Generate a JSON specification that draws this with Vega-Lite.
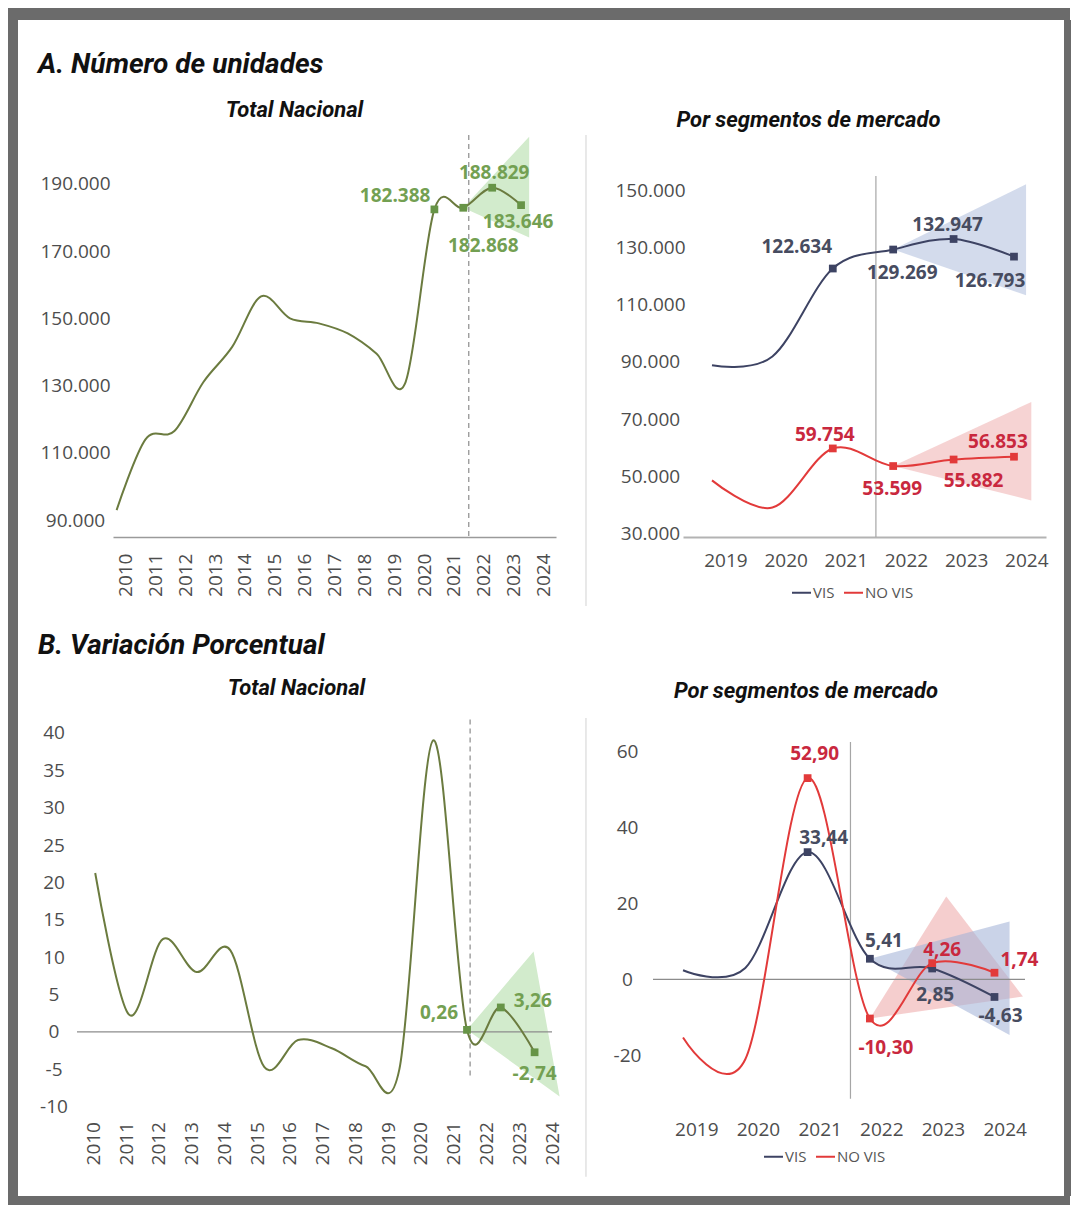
{
  "$schema": "https://vega.github.io/schema/vega-lite/v6.json",
  "background": "white",
  "padding": {"left": 8, "top": 8, "right": 1, "bottom": 0},
  "config": {
    "view": {"stroke": null},
    "locale": {"number": {"decimal": ",", "thousands": ".", "grouping": [3], "currency": ["$", ""], "minus": "-"}},
    "axis": {"labelFont": "Open Sans", "labelFontSize": 19, "labelColor": "#4d4d4d", "grid": false, "ticks": false, "tickSize": 0, "domain": false, "labelFlush": false, "labelOverlap": false, "labelBound": false},
    "title": {"font": "Roboto", "fontWeight": "bold", "fontStyle": "italic", "color": "#111111"},
    "text": {"font": "Open Sans", "fontWeight": "bold", "fontSize": 19},
    "concat": {"spacing": 0}
  },
  "spacing": 0,
  "resolve": {"scale": {"color": "independent"}, "legend": {"color": "independent"}},
  "vconcat": [
    {"width": 1062, "height": 12, "data": {"values": []}, "mark": "point", "view": {"fill": "#6b6b6b", "stroke": null}},
    {
      "spacing": 0,
      "resolve": {"scale": {"color": "independent"}, "legend": {"color": "independent"}},
      "hconcat": [
        {"width": 10, "height": 1176, "data": {"values": []}, "mark": "point", "view": {"fill": "#6b6b6b", "stroke": null}},
        {"width": 20, "height": 10, "data": {"values": []}, "mark": "point"},
        {
          "spacing": 0,
          "resolve": {"scale": {"color": "independent"}, "legend": {"color": "independent"}},
          "vconcat": [
            {"width": 10, "height": 31, "data": {"values": []}, "mark": "point"},
            {
              "title": {"text": "A. Número de unidades", "anchor": "start", "fontSize": 28, "offset": 20, "frame": "bounds"},
              "spacing": 0,
              "resolve": {"scale": {"color": "independent"}, "legend": {"color": "independent"}},
              "hconcat": [
                {"width": 1, "height": 10, "data": {"values": []}, "mark": "point"},
                {
                  "spacing": 27,
                  "resolve": {"scale": {"color": "independent"}, "legend": {"color": "independent"}},
                  "hconcat": [
                {
                  "width": 443, "height": 402,
                  "title": {"text": "Total Nacional", "fontSize": 22, "anchor": "middle", "dx": -40, "offset": 12},
                  "resolve": {"scale": {"x": "independent", "y": "independent"}},
                  "data": {"values": [
                    {"year": 2009, "value": 93000}, {"year": 2010, "value": 114000}, {"year": 2011, "value": 116500},
                    {"year": 2012, "value": 131000}, {"year": 2013, "value": 141500}, {"year": 2014, "value": 156500},
                    {"year": 2015, "value": 150000}, {"year": 2016, "value": 148500}, {"year": 2017, "value": 145500},
                    {"year": 2018, "value": 139500}, {"year": 2019, "value": 131000}, {"year": 2020, "value": 182388},
                    {"year": 2021, "value": 182868}, {"year": 2022, "value": 188829}, {"year": 2023, "value": 183646}
                  ]},
                  "layer": [
                    {"data": {"values": [{"year": 2021, "value": 182868, "value2": 182868}, {"year": 2023.28, "value": 174000, "value2": 204000}]},
                     "mark": {"type": "area", "color": "#d2ebcc"},
                     "encoding": {
                       "x": {"field": "year", "type": "quantitative", "scale": {"domain": [2008.875, 2024.209], "nice": false, "zero": false}, "axis": null, "title": null},
                       "y": {"field": "value", "type": "quantitative", "scale": {"domain": [85000, 204500], "nice": false, "zero": false}, "axis": null, "title": null},
                       "y2": {"field": "value2"}
                     }},
                    {"data": {"values": [{}]},
                     "mark": {"type": "rule", "color": "#8c8c8c", "strokeDash": [5, 4], "strokeWidth": 1.2},
                     "encoding": {
                       "x": {"datum": 2021.5, "type": "quantitative", "scale": {"domain": [2009.578, 2024.423], "nice": false, "zero": false}, "title": null,
                             "axis": {"values": [2010, 2011, 2012, 2013, 2014, 2015, 2016, 2017, 2018, 2019, 2020, 2021, 2022, 2023, 2024], "format": "d", "labelAngle": -90, "labelPadding": 16, "domain": true, "domainColor": "#9a9a9a", "domainWidth": 1.5}},
                       "y": {"datum": 204500, "type": "quantitative", "scale": {"domain": [85000, 204500], "nice": false, "zero": false}, "title": null,
                             "axis": {"values": [90000, 110000, 130000, 150000, 170000, 190000], "format": ",.0f", "labelAlign": "center", "labelPadding": 38}},
                       "y2": {"datum": 85000}
                     }},
                    {"data": {"values": [{}]},
                     "mark": {"type": "rule", "color": "#dadada", "strokeWidth": 1.2},
                     "encoding": {
                       "x": {"datum": 2025.247, "type": "quantitative", "scale": {"domain": [2008.875, 2024.209], "nice": false, "zero": false}, "axis": null, "title": null},
                       "y": {"datum": 204500, "type": "quantitative", "scale": {"domain": [85000, 204500], "nice": false, "zero": false}, "axis": null, "title": null},
                       "y2": {"datum": 64500}
                     }},
                    {"mark": {"type": "line", "interpolate": "cardinal", "tension": 0, "color": "#6b7b3f", "strokeWidth": 2},
                     "encoding": {
                       "x": {"field": "year", "type": "quantitative", "scale": {"domain": [2008.875, 2024.209], "nice": false, "zero": false}, "axis": null, "title": null},
                       "y": {"field": "value", "type": "quantitative", "scale": {"domain": [85000, 204500], "nice": false, "zero": false}, "axis": null, "title": null}
                     }},
                    {"transform": [{"filter": "datum.year >= 2020"}],
                     "mark": {"type": "point", "shape": "square", "filled": true, "size": 60, "color": "#679447", "opacity": 1},
                     "encoding": {
                       "x": {"field": "year", "type": "quantitative", "scale": {"domain": [2008.875, 2024.209], "nice": false, "zero": false}, "axis": null, "title": null},
                       "y": {"field": "value", "type": "quantitative", "scale": {"domain": [85000, 204500], "nice": false, "zero": false}, "axis": null, "title": null}
                     }},
                    {"transform": [{"filter": "datum.year == 2020"}],
                     "mark": {"type": "text", "color": "#73a052", "align": "right", "dx": -4, "dy": -13},
                     "encoding": {
                       "x": {"field": "year", "type": "quantitative", "scale": {"domain": [2008.875, 2024.209], "nice": false, "zero": false}, "axis": null, "title": null},
                       "y": {"field": "value", "type": "quantitative", "scale": {"domain": [85000, 204500], "nice": false, "zero": false}, "axis": null, "title": null},
                       "text": {"field": "value", "format": ",.0f"}
                     }},
                    {"transform": [{"filter": "datum.year == 2021"}],
                     "mark": {"type": "text", "color": "#73a052", "dx": 20, "dy": 38},
                     "encoding": {
                       "x": {"field": "year", "type": "quantitative", "scale": {"domain": [2008.875, 2024.209], "nice": false, "zero": false}, "axis": null, "title": null},
                       "y": {"field": "value", "type": "quantitative", "scale": {"domain": [85000, 204500], "nice": false, "zero": false}, "axis": null, "title": null},
                       "text": {"field": "value", "format": ",.0f"}
                     }},
                    {"transform": [{"filter": "datum.year == 2022"}],
                     "mark": {"type": "text", "color": "#73a052", "dx": 2, "dy": -15},
                     "encoding": {
                       "x": {"field": "year", "type": "quantitative", "scale": {"domain": [2008.875, 2024.209], "nice": false, "zero": false}, "axis": null, "title": null},
                       "y": {"field": "value", "type": "quantitative", "scale": {"domain": [85000, 204500], "nice": false, "zero": false}, "axis": null, "title": null},
                       "text": {"field": "value", "format": ",.0f"}
                     }},
                    {"transform": [{"filter": "datum.year == 2023"}],
                     "mark": {"type": "text", "color": "#73a052", "dx": -3, "dy": 17},
                     "encoding": {
                       "x": {"field": "year", "type": "quantitative", "scale": {"domain": [2008.875, 2024.209], "nice": false, "zero": false}, "axis": null, "title": null},
                       "y": {"field": "value", "type": "quantitative", "scale": {"domain": [85000, 204500], "nice": false, "zero": false}, "axis": null, "title": null},
                       "text": {"field": "value", "format": ",.0f"}
                     }}
                  ]
                },
                {
                  "width": 363, "height": 402,
                  "title": {"text": "Por segmentos de mercado", "fontSize": 22, "anchor": "middle", "dx": -56, "offset": 3},
                  "resolve": {"scale": {"x": "independent", "y": "independent"}},
                  "data": {"values": [
                    {"seg": "VIS", "year": 2019, "value": 88800}, {"seg": "VIS", "year": 2020, "value": 91900},
                    {"seg": "VIS", "year": 2021, "value": 122634}, {"seg": "VIS", "year": 2022, "value": 129269},
                    {"seg": "VIS", "year": 2023, "value": 132947}, {"seg": "VIS", "year": 2024, "value": 126793},
                    {"seg": "NO VIS", "year": 2019, "value": 48600}, {"seg": "NO VIS", "year": 2020, "value": 39100},
                    {"seg": "NO VIS", "year": 2021, "value": 59754}, {"seg": "NO VIS", "year": 2022, "value": 53599},
                    {"seg": "NO VIS", "year": 2023, "value": 55882}, {"seg": "NO VIS", "year": 2024, "value": 56853}
                  ]},
                  "layer": [
                    {"data": {"values": [
                       {"seg": "NO VIS", "year": 2022, "value": 53599, "value2": 53599},
                       {"seg": "NO VIS", "year": 2024.287, "value": 41600, "value2": 76000},
                       {"seg": "VIS", "year": 2022, "value": 129269, "value2": 129269},
                       {"seg": "VIS", "year": 2024.2, "value": 113300, "value2": 152100}
                     ]},
                     "mark": {"type": "area"},
                     "encoding": {
                       "x": {"field": "year", "type": "quantitative", "scale": {"domain": [2018.52, 2024.53], "nice": false, "zero": false}, "axis": null, "title": null},
                       "y": {"field": "value", "type": "quantitative", "scale": {"domain": [28800, 169300], "nice": false, "zero": false}, "axis": null, "title": null},
                       "y2": {"field": "value2"},
                       "detail": {"field": "seg"},
                       "color": {"condition": {"test": "datum.seg === 'VIS'", "value": "#b3c1de"}, "value": "#f0b3b3"},
                       "opacity": {"value": 0.58}
                     }},
                    {"data": {"values": [{}]},
                     "mark": {"type": "rule", "color": "#a6a6a6", "strokeWidth": 1.2},
                     "encoding": {
                       "x": {"datum": 2021.5, "type": "quantitative", "scale": {"domain": [2018.294, 2024.327], "nice": false, "zero": false}, "title": null,
                             "axis": {"values": [2019, 2020, 2021, 2022, 2023, 2024], "format": "d", "labelAngle": 0, "labelPadding": 14, "domain": true, "domainColor": "#b3b3b3", "domainWidth": 2}},
                       "y": {"datum": 155000, "type": "quantitative", "scale": {"domain": [28800, 169300], "nice": false, "zero": false}, "title": null,
                             "axis": {"values": [30000, 50000, 70000, 90000, 110000, 130000, 150000], "format": ",.0f", "labelAlign": "center", "labelPadding": 33}},
                       "y2": {"datum": 28800}
                     }},
                    {"mark": {"type": "line", "interpolate": "cardinal", "tension": 0, "strokeWidth": 2},
                     "encoding": {
                       "x": {"field": "year", "type": "quantitative", "scale": {"domain": [2018.52, 2024.53], "nice": false, "zero": false}, "axis": null, "title": null},
                       "y": {"field": "value", "type": "quantitative", "scale": {"domain": [28800, 169300], "nice": false, "zero": false}, "axis": null, "title": null},
                       "color": {"field": "seg", "type": "nominal", "scale": {"domain": ["VIS", "NO VIS"], "range": ["#3d4363", "#e23a3a"]},
                         "legend": {"orient": "none", "legendX": 108, "legendY": 447, "direction": "horizontal", "title": null, "symbolType": "stroke", "symbolSize": 361, "symbolStrokeWidth": 2, "labelFontSize": 15, "labelFont": "Open Sans", "labelColor": "#555555", "columnPadding": 5, "labelOffset": 1, "padding": 0}}
                     }},
                    {"transform": [{"filter": "datum.year >= 2021"}],
                     "mark": {"type": "point", "shape": "square", "filled": true, "size": 60, "opacity": 1},
                     "encoding": {
                       "x": {"field": "year", "type": "quantitative", "scale": {"domain": [2018.52, 2024.53], "nice": false, "zero": false}, "axis": null, "title": null},
                       "y": {"field": "value", "type": "quantitative", "scale": {"domain": [28800, 169300], "nice": false, "zero": false}, "axis": null, "title": null},
                       "color": {"condition": {"test": "datum.seg === 'VIS'", "value": "#3d4363"}, "value": "#e23a3a"}
                     }},
                    {"transform": [{"filter": "datum.seg === 'VIS' && datum.year == 2021"}],
                     "mark": {"type": "text", "color": "#474c60", "dx": -36, "dy": -22},
                     "encoding": {
                       "x": {"field": "year", "type": "quantitative", "scale": {"domain": [2018.52, 2024.53], "nice": false, "zero": false}, "axis": null, "title": null},
                       "y": {"field": "value", "type": "quantitative", "scale": {"domain": [28800, 169300], "nice": false, "zero": false}, "axis": null, "title": null},
                       "text": {"field": "value", "format": ",.0f"}
                     }},
                    {"transform": [{"filter": "datum.seg === 'VIS' && datum.year == 2022"}],
                     "mark": {"type": "text", "color": "#474c60", "dx": 9, "dy": 23},
                     "encoding": {
                       "x": {"field": "year", "type": "quantitative", "scale": {"domain": [2018.52, 2024.53], "nice": false, "zero": false}, "axis": null, "title": null},
                       "y": {"field": "value", "type": "quantitative", "scale": {"domain": [28800, 169300], "nice": false, "zero": false}, "axis": null, "title": null},
                       "text": {"field": "value", "format": ",.0f"}
                     }},
                    {"transform": [{"filter": "datum.seg === 'VIS' && datum.year == 2023"}],
                     "mark": {"type": "text", "color": "#474c60", "dx": -6, "dy": -14},
                     "encoding": {
                       "x": {"field": "year", "type": "quantitative", "scale": {"domain": [2018.52, 2024.53], "nice": false, "zero": false}, "axis": null, "title": null},
                       "y": {"field": "value", "type": "quantitative", "scale": {"domain": [28800, 169300], "nice": false, "zero": false}, "axis": null, "title": null},
                       "text": {"field": "value", "format": ",.0f"}
                     }},
                    {"transform": [{"filter": "datum.seg === 'VIS' && datum.year == 2024"}],
                     "mark": {"type": "text", "color": "#474c60", "dx": -24, "dy": 24},
                     "encoding": {
                       "x": {"field": "year", "type": "quantitative", "scale": {"domain": [2018.52, 2024.53], "nice": false, "zero": false}, "axis": null, "title": null},
                       "y": {"field": "value", "type": "quantitative", "scale": {"domain": [28800, 169300], "nice": false, "zero": false}, "axis": null, "title": null},
                       "text": {"field": "value", "format": ",.0f"}
                     }},
                    {"transform": [{"filter": "datum.seg === 'NO VIS' && datum.year == 2021"}],
                     "mark": {"type": "text", "color": "#c9283e", "dx": -8, "dy": -13},
                     "encoding": {
                       "x": {"field": "year", "type": "quantitative", "scale": {"domain": [2018.52, 2024.53], "nice": false, "zero": false}, "axis": null, "title": null},
                       "y": {"field": "value", "type": "quantitative", "scale": {"domain": [28800, 169300], "nice": false, "zero": false}, "axis": null, "title": null},
                       "text": {"field": "value", "format": ",.0f"}
                     }},
                    {"transform": [{"filter": "datum.seg === 'NO VIS' && datum.year == 2022"}],
                     "mark": {"type": "text", "color": "#c9283e", "dx": -1, "dy": 23},
                     "encoding": {
                       "x": {"field": "year", "type": "quantitative", "scale": {"domain": [2018.52, 2024.53], "nice": false, "zero": false}, "axis": null, "title": null},
                       "y": {"field": "value", "type": "quantitative", "scale": {"domain": [28800, 169300], "nice": false, "zero": false}, "axis": null, "title": null},
                       "text": {"field": "value", "format": ",.0f"}
                     }},
                    {"transform": [{"filter": "datum.seg === 'NO VIS' && datum.year == 2023"}],
                     "mark": {"type": "text", "color": "#c9283e", "dx": 20, "dy": 21},
                     "encoding": {
                       "x": {"field": "year", "type": "quantitative", "scale": {"domain": [2018.52, 2024.53], "nice": false, "zero": false}, "axis": null, "title": null},
                       "y": {"field": "value", "type": "quantitative", "scale": {"domain": [28800, 169300], "nice": false, "zero": false}, "axis": null, "title": null},
                       "text": {"field": "value", "format": ",.0f"}
                     }},
                    {"transform": [{"filter": "datum.seg === 'NO VIS' && datum.year == 2024"}],
                     "mark": {"type": "text", "color": "#c9283e", "dx": -16, "dy": -15},
                     "encoding": {
                       "x": {"field": "year", "type": "quantitative", "scale": {"domain": [2018.52, 2024.53], "nice": false, "zero": false}, "axis": null, "title": null},
                       "y": {"field": "value", "type": "quantitative", "scale": {"domain": [28800, 169300], "nice": false, "zero": false}, "axis": null, "title": null},
                       "text": {"field": "value", "format": ",.0f"}
                     }}
                  ]
                }
                  ]
                }
              ]
            },
            {"width": 10, "height": 25, "data": {"values": []}, "mark": "point"},
            {
              "title": {"text": "B. Variación Porcentual", "anchor": "start", "fontSize": 28, "offset": 17, "frame": "bounds"},
              "spacing": 0,
              "resolve": {"scale": {"color": "independent"}, "legend": {"color": "independent"}},
              "hconcat": [
                {"width": 1, "height": 10, "data": {"values": []}, "mark": "point"},
                {
                  "spacing": 26,
                  "resolve": {"scale": {"color": "independent"}, "legend": {"color": "independent"}},
                  "hconcat": [
                {
                  "width": 475, "height": 396,
                  "title": {"text": "Total Nacional", "fontSize": 22, "anchor": "middle", "dx": -18, "offset": 17},
                  "resolve": {"scale": {"x": "independent", "y": "independent"}},
                  "data": {"values": [
                    {"year": 2010, "value": 21.25}, {"year": 2011, "value": 2.3}, {"year": 2012, "value": 12.4},
                    {"year": 2013, "value": 8.0}, {"year": 2014, "value": 10.9}, {"year": 2015, "value": -4.7},
                    {"year": 2016, "value": -1.1}, {"year": 2017, "value": -2.2}, {"year": 2018, "value": -4.6},
                    {"year": 2019, "value": -5.0}, {"year": 2020, "value": 39.0}, {"year": 2021, "value": 0.26},
                    {"year": 2022, "value": 3.26}, {"year": 2023, "value": -2.74}
                  ]},
                  "layer": [
                    {"data": {"values": [{"year": 2021, "value": 0.26, "value2": 0.26}, {"year": 2022.97, "value": -6.16, "value2": 10.75}, {"year": 2023.74, "value": -8.67, "value2": -8.67}]},
                     "mark": {"type": "area", "color": "#d2ebcc"},
                     "encoding": {
                       "x": {"field": "year", "type": "quantitative", "scale": {"domain": [2009.4615, 2023.515], "nice": false, "zero": false}, "axis": null, "title": null},
                       "y": {"field": "value", "type": "quantitative", "scale": {"domain": [-11, 42], "nice": false, "zero": false}, "axis": null, "title": null},
                       "y2": {"field": "value2"}
                     }},
                    {"data": {"values": [{}]},
                     "mark": {"type": "rule", "color": "#8c8c8c", "strokeWidth": 1.2},
                     "encoding": {
                       "x": {"datum": 2009.4615, "type": "quantitative", "scale": {"domain": [2009.4615, 2023.515], "nice": false, "zero": false}, "axis": null, "title": null},
                       "x2": {"datum": 2023.515},
                       "y": {"datum": 0, "type": "quantitative", "scale": {"domain": [-11, 42], "nice": false, "zero": false}, "title": null,
                             "axis": {"values": [-10, -5, 0, 5, 10, 15, 20, 25, 30, 35, 40], "format": "d", "labelAlign": "center", "labelPadding": 23.5}}
                     }},
                    {"data": {"values": [{}]},
                     "mark": {"type": "rule", "color": "#8c8c8c", "strokeDash": [5, 4], "strokeWidth": 1.2},
                     "encoding": {
                       "x": {"datum": 2021.5, "type": "quantitative", "scale": {"domain": [2009.5, 2024.0], "nice": false, "zero": false}, "title": null,
                             "axis": {"values": [2010, 2011, 2012, 2013, 2014, 2015, 2016, 2017, 2018, 2019, 2020, 2021, 2022, 2023, 2024], "format": "d", "labelAngle": -90, "labelPadding": 7.5}},
                       "y": {"datum": 41.8, "type": "quantitative", "scale": {"domain": [-11, 42], "nice": false, "zero": false}, "axis": null, "title": null},
                       "y2": {"datum": -6.2}
                     }},
                    {"data": {"values": [{}]},
                     "mark": {"type": "rule", "color": "#dadada", "strokeWidth": 1.2},
                     "encoding": {
                       "x": {"datum": 2024.52, "type": "quantitative", "scale": {"domain": [2009.4615, 2023.515], "nice": false, "zero": false}, "axis": null, "title": null},
                       "y": {"datum": 42, "type": "quantitative", "scale": {"domain": [-11, 42], "nice": false, "zero": false}, "axis": null, "title": null},
                       "y2": {"datum": -19.4}
                     }},
                    {"mark": {"type": "line", "interpolate": "cardinal", "tension": 0, "color": "#6b7b3f", "strokeWidth": 2},
                     "encoding": {
                       "x": {"field": "year", "type": "quantitative", "scale": {"domain": [2009.4615, 2023.515], "nice": false, "zero": false}, "axis": null, "title": null},
                       "y": {"field": "value", "type": "quantitative", "scale": {"domain": [-11, 42], "nice": false, "zero": false}, "axis": null, "title": null}
                     }},
                    {"transform": [{"filter": "datum.year >= 2021"}],
                     "mark": {"type": "point", "shape": "square", "filled": true, "size": 60, "color": "#679447", "opacity": 1},
                     "encoding": {
                       "x": {"field": "year", "type": "quantitative", "scale": {"domain": [2009.4615, 2023.515], "nice": false, "zero": false}, "axis": null, "title": null},
                       "y": {"field": "value", "type": "quantitative", "scale": {"domain": [-11, 42], "nice": false, "zero": false}, "axis": null, "title": null}
                     }},
                    {"transform": [{"filter": "datum.year == 2021"}],
                     "mark": {"type": "text", "color": "#73a052", "dx": -28, "dy": -17},
                     "encoding": {
                       "x": {"field": "year", "type": "quantitative", "scale": {"domain": [2009.4615, 2023.515], "nice": false, "zero": false}, "axis": null, "title": null},
                       "y": {"field": "value", "type": "quantitative", "scale": {"domain": [-11, 42], "nice": false, "zero": false}, "axis": null, "title": null},
                       "text": {"field": "value", "format": ".2f"}
                     }},
                    {"transform": [{"filter": "datum.year == 2022"}],
                     "mark": {"type": "text", "color": "#73a052", "dx": 32, "dy": -6},
                     "encoding": {
                       "x": {"field": "year", "type": "quantitative", "scale": {"domain": [2009.4615, 2023.515], "nice": false, "zero": false}, "axis": null, "title": null},
                       "y": {"field": "value", "type": "quantitative", "scale": {"domain": [-11, 42], "nice": false, "zero": false}, "axis": null, "title": null},
                       "text": {"field": "value", "format": ".2f"}
                     }},
                    {"transform": [{"filter": "datum.year == 2023"}],
                     "mark": {"type": "text", "color": "#73a052", "dx": 0, "dy": 22},
                     "encoding": {
                       "x": {"field": "year", "type": "quantitative", "scale": {"domain": [2009.4615, 2023.515], "nice": false, "zero": false}, "axis": null, "title": null},
                       "y": {"field": "value", "type": "quantitative", "scale": {"domain": [-11, 42], "nice": false, "zero": false}, "axis": null, "title": null},
                       "text": {"field": "value", "format": ".2f"}
                     }}
                  ]
                },
                {
                  "width": 372, "height": 396,
                  "title": {"text": "Por segmentos de mercado", "fontSize": 22, "anchor": "middle", "dx": -33, "offset": 15},
                  "resolve": {"scale": {"x": "independent", "y": "independent"}},
                  "data": {"values": [
                    {"seg": "VIS", "year": 2019, "value": 2.4}, {"seg": "VIS", "year": 2020, "value": 3.0},
                    {"seg": "VIS", "year": 2021, "value": 33.44}, {"seg": "VIS", "year": 2022, "value": 5.41},
                    {"seg": "VIS", "year": 2023, "value": 2.85}, {"seg": "VIS", "year": 2024, "value": -4.63},
                    {"seg": "NO VIS", "year": 2019, "value": -15.3}, {"seg": "NO VIS", "year": 2020, "value": -21.0},
                    {"seg": "NO VIS", "year": 2021, "value": 52.9}, {"seg": "NO VIS", "year": 2022, "value": -10.3},
                    {"seg": "NO VIS", "year": 2023, "value": 4.26}, {"seg": "NO VIS", "year": 2024, "value": 1.74}
                  ]},
                  "layer": [
                    {"data": {"values": [
                       {"seg": "NO VIS", "year": 2022, "value": -10.3, "value2": -10.3},
                       {"seg": "NO VIS", "year": 2023.226, "value": -7.41, "value2": 21.8},
                       {"seg": "NO VIS", "year": 2024.457, "value": -4.5, "value2": -4.5},
                       {"seg": "VIS", "year": 2022, "value": 5.41, "value2": 5.41},
                       {"seg": "VIS", "year": 2024.242, "value": -14.6, "value2": 15.2}
                     ]},
                     "mark": {"type": "area"},
                     "encoding": {
                       "x": {"field": "year", "type": "quantitative", "scale": {"domain": [2018.518, 2024.49], "nice": false, "zero": false}, "axis": null, "title": null},
                       "y": {"field": "value", "type": "quantitative", "scale": {"domain": [-35.4, 68.7], "nice": false, "zero": false}, "axis": null, "title": null},
                       "y2": {"field": "value2"},
                       "detail": {"field": "seg"},
                       "color": {"condition": {"test": "datum.seg === 'VIS'", "value": "#a4b4d8"}, "value": "#eeaaaa"},
                       "opacity": {"value": 0.58}
                     }},
                    {"data": {"values": [{}]},
                     "mark": {"type": "rule", "color": "#8c8c8c", "strokeWidth": 1.2},
                     "encoding": {
                       "x": {"datum": 2018.518, "type": "quantitative", "scale": {"domain": [2018.518, 2024.49], "nice": false, "zero": false}, "axis": null, "title": null},
                       "x2": {"datum": 2024.49},
                       "y": {"datum": 0, "type": "quantitative", "scale": {"domain": [-35.4, 68.7], "nice": false, "zero": false}, "title": null,
                             "axis": {"values": [-20, 0, 20, 40, 60], "format": "d", "labelAlign": "center", "labelPadding": 26}}
                     }},
                    {"data": {"values": [{}]},
                     "mark": {"type": "rule", "color": "#a6a6a6", "strokeWidth": 1.2},
                     "encoding": {
                       "x": {"datum": 2021.5, "type": "quantitative", "scale": {"domain": [2018.298, 2024.33], "nice": false, "zero": false}, "title": null,
                             "axis": {"values": [2019, 2020, 2021, 2022, 2023, 2024], "format": "d", "labelAngle": 0, "labelPadding": 6}},
                       "y": {"datum": 62.4, "type": "quantitative", "scale": {"domain": [-35.4, 68.7], "nice": false, "zero": false}, "axis": null, "title": null},
                       "y2": {"datum": -31.4}
                     }},
                    {"mark": {"type": "line", "interpolate": "cardinal", "tension": 0, "strokeWidth": 2},
                     "encoding": {
                       "x": {"field": "year", "type": "quantitative", "scale": {"domain": [2018.518, 2024.49], "nice": false, "zero": false}, "axis": null, "title": null},
                       "y": {"field": "value", "type": "quantitative", "scale": {"domain": [-35.4, 68.7], "nice": false, "zero": false}, "axis": null, "title": null},
                       "color": {"field": "seg", "type": "nominal", "scale": {"domain": ["VIS", "NO VIS"], "range": ["#3d4363", "#e23a3a"]},
                         "legend": {"orient": "none", "legendX": 110, "legendY": 428, "direction": "horizontal", "title": null, "symbolType": "stroke", "symbolSize": 361, "symbolStrokeWidth": 2, "labelFontSize": 15, "labelFont": "Open Sans", "labelColor": "#555555", "columnPadding": 5, "labelOffset": 1, "padding": 0}}
                     }},
                    {"transform": [{"filter": "datum.year >= 2021"}],
                     "mark": {"type": "point", "shape": "square", "filled": true, "size": 60, "opacity": 1},
                     "encoding": {
                       "x": {"field": "year", "type": "quantitative", "scale": {"domain": [2018.518, 2024.49], "nice": false, "zero": false}, "axis": null, "title": null},
                       "y": {"field": "value", "type": "quantitative", "scale": {"domain": [-35.4, 68.7], "nice": false, "zero": false}, "axis": null, "title": null},
                       "color": {"condition": {"test": "datum.seg === 'VIS'", "value": "#3d4363"}, "value": "#e23a3a"}
                     }},
                    {"transform": [{"filter": "datum.seg === 'NO VIS' && datum.year == 2021"}],
                     "mark": {"type": "text", "color": "#c9283e", "dx": 7, "dy": -24},
                     "encoding": {
                       "x": {"field": "year", "type": "quantitative", "scale": {"domain": [2018.518, 2024.49], "nice": false, "zero": false}, "axis": null, "title": null},
                       "y": {"field": "value", "type": "quantitative", "scale": {"domain": [-35.4, 68.7], "nice": false, "zero": false}, "axis": null, "title": null},
                       "text": {"field": "value", "format": ".2f"}
                     }},
                    {"transform": [{"filter": "datum.seg === 'VIS' && datum.year == 2021"}],
                     "mark": {"type": "text", "color": "#474c60", "dx": 16, "dy": -14},
                     "encoding": {
                       "x": {"field": "year", "type": "quantitative", "scale": {"domain": [2018.518, 2024.49], "nice": false, "zero": false}, "axis": null, "title": null},
                       "y": {"field": "value", "type": "quantitative", "scale": {"domain": [-35.4, 68.7], "nice": false, "zero": false}, "axis": null, "title": null},
                       "text": {"field": "value", "format": ".2f"}
                     }},
                    {"transform": [{"filter": "datum.seg === 'VIS' && datum.year == 2022"}],
                     "mark": {"type": "text", "color": "#474c60", "dx": 14, "dy": -18},
                     "encoding": {
                       "x": {"field": "year", "type": "quantitative", "scale": {"domain": [2018.518, 2024.49], "nice": false, "zero": false}, "axis": null, "title": null},
                       "y": {"field": "value", "type": "quantitative", "scale": {"domain": [-35.4, 68.7], "nice": false, "zero": false}, "axis": null, "title": null},
                       "text": {"field": "value", "format": ".2f"}
                     }},
                    {"transform": [{"filter": "datum.seg === 'NO VIS' && datum.year == 2022"}],
                     "mark": {"type": "text", "color": "#c9283e", "dx": 16, "dy": 29},
                     "encoding": {
                       "x": {"field": "year", "type": "quantitative", "scale": {"domain": [2018.518, 2024.49], "nice": false, "zero": false}, "axis": null, "title": null},
                       "y": {"field": "value", "type": "quantitative", "scale": {"domain": [-35.4, 68.7], "nice": false, "zero": false}, "axis": null, "title": null},
                       "text": {"field": "value", "format": ".2f"}
                     }},
                    {"transform": [{"filter": "datum.seg === 'NO VIS' && datum.year == 2023"}],
                     "mark": {"type": "text", "color": "#c9283e", "dx": 10, "dy": -13},
                     "encoding": {
                       "x": {"field": "year", "type": "quantitative", "scale": {"domain": [2018.518, 2024.49], "nice": false, "zero": false}, "axis": null, "title": null},
                       "y": {"field": "value", "type": "quantitative", "scale": {"domain": [-35.4, 68.7], "nice": false, "zero": false}, "axis": null, "title": null},
                       "text": {"field": "value", "format": ".2f"}
                     }},
                    {"transform": [{"filter": "datum.seg === 'VIS' && datum.year == 2023"}],
                     "mark": {"type": "text", "color": "#474c60", "dx": 3, "dy": 27},
                     "encoding": {
                       "x": {"field": "year", "type": "quantitative", "scale": {"domain": [2018.518, 2024.49], "nice": false, "zero": false}, "axis": null, "title": null},
                       "y": {"field": "value", "type": "quantitative", "scale": {"domain": [-35.4, 68.7], "nice": false, "zero": false}, "axis": null, "title": null},
                       "text": {"field": "value", "format": ".2f"}
                     }},
                    {"transform": [{"filter": "datum.seg === 'NO VIS' && datum.year == 2024"}],
                     "mark": {"type": "text", "color": "#c9283e", "dx": 25, "dy": -13},
                     "encoding": {
                       "x": {"field": "year", "type": "quantitative", "scale": {"domain": [2018.518, 2024.49], "nice": false, "zero": false}, "axis": null, "title": null},
                       "y": {"field": "value", "type": "quantitative", "scale": {"domain": [-35.4, 68.7], "nice": false, "zero": false}, "axis": null, "title": null},
                       "text": {"field": "value", "format": ".2f"}
                     }},
                    {"transform": [{"filter": "datum.seg === 'VIS' && datum.year == 2024"}],
                     "mark": {"type": "text", "color": "#474c60", "dx": 6, "dy": 19},
                     "encoding": {
                       "x": {"field": "year", "type": "quantitative", "scale": {"domain": [2018.518, 2024.49], "nice": false, "zero": false}, "axis": null, "title": null},
                       "y": {"field": "value", "type": "quantitative", "scale": {"domain": [-35.4, 68.7], "nice": false, "zero": false}, "axis": null, "title": null},
                       "text": {"field": "value", "format": ".2f"}
                     }}
                  ]
                }
                  ]
                }
              ]
            }
          ]
        },
        {"width": 15, "height": 10, "data": {"values": []}, "mark": "point"},
        {"width": 10, "height": 1176, "data": {"values": []}, "mark": "point", "view": {"fill": "#6b6b6b", "stroke": null}}
      ]
    },
    {"width": 1062, "height": 9, "data": {"values": []}, "mark": "point", "view": {"fill": "#6b6b6b", "stroke": null}}
  ]
}
